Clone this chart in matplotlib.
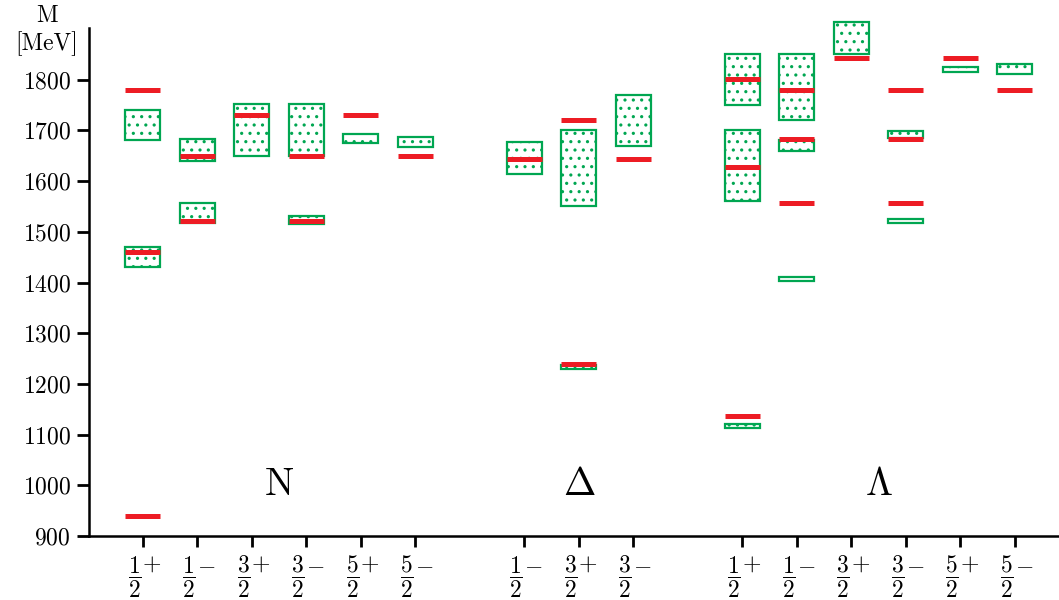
import matplotlib
matplotlib.use("Agg")
import matplotlib.pyplot as plt
from matplotlib.patches import Rectangle
from matplotlib.transforms import blended_transform_factory

plt.rcParams['font.family'] = ['cmr10', 'DejaVu Serif']
plt.rcParams['mathtext.fontset'] = 'cm'
plt.rcParams['axes.formatter.use_mathtext'] = True
plt.rcParams['hatch.linewidth'] = 1.1

GREEN = '#00a651'
RED = '#ed1c24'

# tick positions / labels (spin fraction, parity)
tick_pos = [0, 1, 2, 3, 4, 5, 7, 8, 9, 11, 12, 13, 14, 15, 16]
tick_spin = ['1', '1', '3', '3', '5', '5',
             '1', '3', '3',
             '1', '1', '3', '3', '5', '5']
tick_parity = ['+', '-', '+', '-', '+', '-',
               '-', '+', '-',
               '+', '-', '+', '-', '+', '-']

# experimental boxes (green): position, low, high
box_x = [0, 0, 1, 1, 2, 3, 3, 4, 5,
         7, 8, 8, 9,
         11, 11, 11, 12, 12, 12, 13, 14, 14, 15, 16]
box_lo = [1681, 1431, 1640, 1517, 1650, 1650, 1515, 1675, 1668,
          1614, 1551, 1230, 1670,
          1751, 1561, 1113, 1721, 1660, 1403, 1851, 1685, 1517, 1815, 1811]
box_hi = [1741, 1470, 1683, 1556, 1752, 1752, 1532, 1693, 1687,
          1677, 1701, 1237, 1770,
          1851, 1701, 1120, 1851, 1682, 1411, 1913, 1698, 1525, 1826, 1831]

# model values (red): position, mass
red_x = [0, 0, 0, 1, 1, 2, 3, 3, 4, 5,
         7, 8, 8, 9,
         11, 11, 11, 12, 12, 12, 13, 14, 14, 14, 15, 16]
red_m = [1779, 1460, 940, 1649, 1521, 1731, 1649, 1521, 1730, 1649,
         1643, 1721, 1240, 1643,
         1801, 1627, 1136, 1780, 1684, 1557, 1843, 1780, 1684, 1557, 1843, 1780]

group_names = ['N', r'$\Delta$', r'$\Lambda$']
group_pos = [2.5, 8, 13.5]
group_y = 1000

fig = plt.figure(figsize=(10.59, 6.0), dpi=100)
ax = fig.add_axes([0.084, 0.1067, 0.916, 0.8466])
ax.set_xlim(-0.99, 16.81)
ax.set_ylim(900, 1902)

W = 0.64
for x, lo, hi in zip(box_x, box_lo, box_hi):
    r = Rectangle((x - W / 2, lo), W, hi - lo, facecolor='none', edgecolor=GREEN,
                  hatch='..', lw=1.6, clip_on=False)
    ax.add_patch(r)
ax.hlines(red_m, [x - W / 2 for x in red_x], [x + W / 2 for x in red_x],
          colors=RED, lw=3.6, capstyle='butt', zorder=5)

for name, p in zip(group_names, group_pos):
    ax.text(p, group_y, name, fontsize=28, ha='center', va='center')

ax.set_yticks(range(900, 1801, 100))
ax.set_xticks(tick_pos)
ax.set_xticklabels([''] * len(tick_pos))
trans = blended_transform_factory(ax.transData, ax.transAxes)
for p, s, par in zip(tick_pos, tick_spin, tick_parity):
    ax.text(p - 0.15, -0.081, r'$\dfrac{%s}{2}$' % s, fontsize=17,
            ha='center', va='center', transform=trans)
    ax.text(p + 0.165, -0.057, r'$%s$' % par, fontsize=17,
            ha='center', va='center', transform=trans)

ax.tick_params(axis='y', labelsize=17, width=2, length=9, direction='out', pad=4)
ax.tick_params(axis='x', width=2, length=8, direction='out')
for s in ['top', 'right']:
    ax.spines[s].set_visible(False)
for s in ['left', 'bottom']:
    ax.spines[s].set_linewidth(1.8)

fig.text(0.044, 0.974, 'M', fontsize=17, ha='center', va='center')
fig.text(0.044, 0.928, '[MeV]', fontsize=17, ha='center', va='center')

fig.savefig('out.png', dpi=100)
